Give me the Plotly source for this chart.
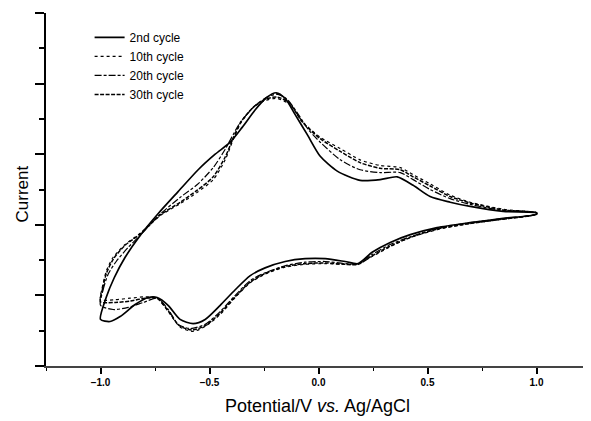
import plotly.graph_objects as go

# cyclic voltammograms, potential in V vs Ag/AgCl, current in arbitrary units
potential_2nd = [-1.00, -0.974, -0.937, -0.887, -0.818, -0.735, -0.644, -0.552, -0.474, -0.405,
                 -0.350, -0.290, -0.240, -0.194, -0.153, -0.107, -0.052, 0.008, 0.086, 0.191,
                 0.283, 0.361, 0.434, 0.512, 0.604, 0.696, 0.847, 1.00,
                 1.00, 0.847, 0.696, 0.544, 0.421, 0.329, 0.246, 0.182, 0.122, 0.031,
                 -0.061, -0.153, -0.245, -0.313, -0.382, -0.451, -0.520, -0.575, -0.635, -0.690,
                 -0.740, -0.781, -0.841, -0.910, -0.956, -1.00]
current_2nd = [-1.34, -1.03, -0.75, -0.46, -0.15, 0.16, 0.47, 0.78, 1.00, 1.17,
               1.38, 1.63, 1.80, 1.87, 1.79, 1.56, 1.28, 0.97, 0.76, 0.63,
               0.64, 0.68, 0.56, 0.40, 0.32, 0.26, 0.19, 0.17,
               0.15, 0.09, 0.03, -0.04, -0.14, -0.25, -0.39, -0.55, -0.52, -0.48,
               -0.48, -0.52, -0.61, -0.72, -0.92, -1.14, -1.34, -1.40, -1.34, -1.14,
               -1.03, -1.03, -1.13, -1.30, -1.37, -1.34]

potential_10th = [-1.00, -0.992, -0.974, -0.942, -0.887, -0.818, -0.726, -0.634, -0.556, -0.483,
                  -0.428, -0.391, -0.355, -0.300, -0.245, -0.189, -0.130, -0.070, 0.008, 0.100,
                  0.191, 0.283, 0.375, 0.434, 0.512, 0.604, 0.696, 0.847, 1.00,
                  1.00, 0.847, 0.696, 0.544, 0.421, 0.329, 0.246, 0.182, 0.122, 0.031,
                  -0.061, -0.153, -0.245, -0.313, -0.382, -0.451, -0.520, -0.575, -0.634, -0.689,
                  -0.740, -0.795, -0.864, -0.933, -1.00]
current_10th = [-1.06, -0.89, -0.66, -0.46, -0.28, -0.12, 0.13, 0.30, 0.46, 0.64,
                0.92, 1.21, 1.45, 1.66, 1.76, 1.79, 1.70, 1.45, 1.24, 1.08,
                0.92, 0.84, 0.81, 0.71, 0.58, 0.42, 0.32, 0.22, 0.17,
                0.15, 0.08, 0.02, -0.07, -0.18, -0.31, -0.45, -0.55, -0.56, -0.55,
                -0.56, -0.60, -0.70, -0.82, -1.03, -1.27, -1.44, -1.51, -1.45, -1.23,
                -1.04, -1.02, -1.04, -1.06, -1.06]

potential_20th = [-1.00, -0.988, -0.965, -0.928, -0.873, -0.818, -0.726, -0.634, -0.556, -0.483,
                  -0.428, -0.391, -0.359, -0.290, -0.240, -0.194, -0.148, -0.098, -0.047, 0.008,
                  0.100, 0.191, 0.283, 0.375, 0.434, 0.512, 0.604, 0.696, 0.847, 1.00,
                  1.00, 0.847, 0.696, 0.544, 0.421, 0.329, 0.246, 0.182, 0.122, 0.031,
                  -0.061, -0.153, -0.245, -0.313, -0.382, -0.451, -0.520, -0.589, -0.644, -0.689,
                  -0.740, -0.804, -0.873, -0.942, -1.00]
current_20th = [-1.14, -0.92, -0.70, -0.52, -0.32, -0.15, 0.15, 0.39, 0.57, 0.81,
                1.07, 1.28, 1.45, 1.69, 1.80, 1.85, 1.79, 1.59, 1.35, 1.17,
                0.92, 0.78, 0.74, 0.74, 0.64, 0.50, 0.37, 0.29, 0.20, 0.17,
                0.15, 0.09, 0.03, -0.05, -0.17, -0.28, -0.42, -0.55, -0.55, -0.52,
                -0.53, -0.58, -0.68, -0.79, -1.00, -1.23, -1.41, -1.47, -1.41, -1.20,
                -1.04, -1.10, -1.17, -1.20, -1.14]

potential_30th = [-1.00, -0.990, -0.972, -0.940, -0.887, -0.818, -0.726, -0.634, -0.556, -0.483,
                  -0.428, -0.391, -0.357, -0.298, -0.243, -0.190, -0.135, -0.075, 0.008, 0.100,
                  0.191, 0.283, 0.375, 0.434, 0.512, 0.604, 0.696, 0.847, 1.00,
                  1.00, 0.847, 0.696, 0.544, 0.421, 0.329, 0.246, 0.182, 0.122, 0.031,
                  -0.061, -0.153, -0.245, -0.313, -0.382, -0.451, -0.520, -0.580, -0.638, -0.689,
                  -0.740, -0.795, -0.864, -0.933, -1.00]
current_30th = [-1.09, -0.90, -0.68, -0.48, -0.29, -0.13, 0.14, 0.32, 0.49, 0.68,
                0.96, 1.23, 1.45, 1.67, 1.78, 1.81, 1.73, 1.46, 1.22, 1.04,
                0.88, 0.80, 0.78, 0.68, 0.55, 0.40, 0.31, 0.21, 0.17,
                0.15, 0.08, 0.02, -0.06, -0.18, -0.30, -0.44, -0.56, -0.56, -0.54,
                -0.55, -0.59, -0.69, -0.81, -1.02, -1.25, -1.43, -1.49, -1.43, -1.22,
                -1.04, -1.04, -1.08, -1.10, -1.09]

cycles = [
    ("2nd cycle", potential_2nd, current_2nd, "solid", 1.7),
    ("10th cycle", potential_10th, current_10th, "3px,3px", 1.2),
    ("20th cycle", potential_20th, current_20th, "7px,2px,3px,2px", 1.2),
    ("30th cycle", potential_30th, current_30th, "4px,1.5px", 1.5),
]

fig = go.Figure()
for name, e, i, dash, width in cycles:
    fig.add_trace(go.Scatter(
        x=e, y=i, mode="lines", name=name,
        line=dict(color="black", width=width, dash=dash, shape="spline", smoothing=0.7)))

# page body has an 8px margin, so the figure is a bit smaller than the window
fig.update_layout(
    width=583, height=413,
    margin=dict(l=38, r=0, t=5, b=55),
    plot_bgcolor="white", paper_bgcolor="white",
    font=dict(family="Arial, Liberation Sans, sans-serif", color="black"),
    showlegend=True,
    legend=dict(x=0.08, y=0.972, xanchor="left", yanchor="top",
                bgcolor="rgba(0,0,0,0)", font=dict(size=12), tracegroupgap=0),
    xaxis=dict(range=[-1.25, 1.25], tick0=0, dtick=0.5, tickformat=".1f",
               showline=True, linecolor="#444", linewidth=2, showgrid=False, zeroline=False,
               ticks="outside", ticklen=6, tickwidth=1.5, tickcolor="black",
               tickfont=dict(size=10, weight="bold"),
               minor=dict(dtick=0.25, tick0=0, ticks="outside", ticklen=3,
                          tickwidth=1.2, tickcolor="black", showgrid=False)),
    yaxis=dict(range=[-2, 3], tick0=0, dtick=1, showticklabels=False,
               showline=True, linecolor="black", linewidth=1.5, showgrid=False, zeroline=False,
               ticks="outside", ticklen=9, tickwidth=1.5, tickcolor="black",
               minor=dict(dtick=0.5, tick0=0, ticks="outside", ticklen=5,
                          tickwidth=1.5, tickcolor="black", showgrid=False)),
    annotations=[
        dict(text="Current", xref="paper", yref="paper", x=-0.044, y=0.486,
             textangle=-90, showarrow=False, font=dict(size=17),
             xanchor="center", yanchor="middle"),
        dict(text="Potential/V <i>vs.</i> Ag/AgCl", xref="paper", yref="paper",
             x=0.499, y=-0.112, showarrow=False, font=dict(size=18),
             xanchor="center", yanchor="middle"),
    ],
)

fig.write_html("out.html")
